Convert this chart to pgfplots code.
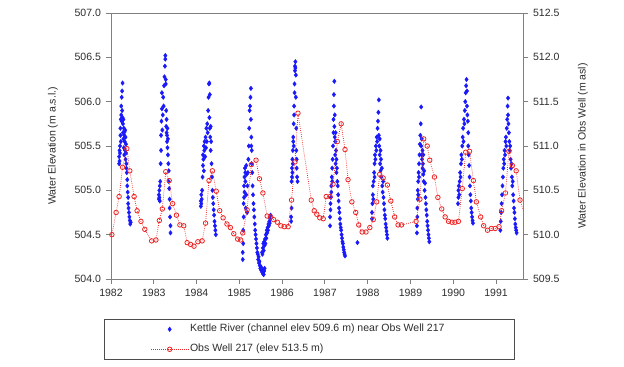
\documentclass[border=0pt]{standalone}
\usepackage{fontspec}
\setmainfont{Liberation Sans}
\usepackage{pgfplots}
\pgfplotsset{compat=1.18}

\definecolor{axisgray}{RGB}{128,128,128}
\definecolor{txt}{RGB}{45,45,45}
\definecolor{riverblue}{RGB}{25,25,250}
\definecolor{wellred}{RGB}{238,35,35}

\pgfplotsset{
  chartbase/.style={
    scale only axis, width=309pt, height=199.5pt,
    at={(83.25pt,66pt)}, anchor=south west,
    xmin=1982, xmax=1991.63,
    font=\fontsize{7.9}{9.5}\selectfont,
    /pgf/number format/assume math mode=true,
    axis line style={axisgray, line width=0.7pt},
    tick style={axisgray, line width=0.7pt},
    tick align=outside, major tick length=4pt,
    ticklabel style={text=txt},
    label style={text=txt},
  },
  rivermark/.style={only marks, mark=diamond*, mark size=1.7pt, riverblue,
    mark options={fill=riverblue, draw=riverblue, line width=0.3pt}},
  riverleg/.style={legend image code/.code={\draw[##1] plot coordinates {(14pt,0pt)};}},
  wellleg/.style={legend image code/.code={\draw[##1, mark repeat=2, mark phase=2] plot coordinates {(0pt,0pt)(14pt,0pt)(28pt,0pt)};}},
}

\begin{document}
\begin{tikzpicture}
\path[use as bounding box] (0,0) rectangle (468pt,275.25pt);

% left axis: Kettle River
\begin{axis}[chartbase,
    ymin=504, ymax=507,
    xtick={1982,1983,...,1991}, xtick pos=bottom, ytick pos=left,
    ytick={504,504.5,...,507},
    xticklabel style={/pgf/number format/1000 sep={}},
    yticklabel style={/pgf/number format/.cd, fixed, fixed zerofill, precision=1, 1000 sep={}},
    ylabel={Water Elevation (m a.s.l.)},
    ylabel style={at={(axis description cs:-0.1408,0.5)}, anchor=center},
]
\addplot[rivermark] coordinates {
(1982.19,505.30)(1982.19,505.38)(1982.20,505.45)(1982.20,505.33)(1982.21,505.50)(1982.21,505.42)(1982.22,505.62)(1982.22,505.70)
(1982.23,505.80)(1982.23,505.55)(1982.24,505.85)(1982.24,505.95)(1982.25,506.05)(1982.25,505.78)(1982.26,506.12)(1982.26,505.90)
(1982.27,506.21)(1982.27,505.82)(1982.28,505.75)(1982.28,505.65)(1982.29,505.80)(1982.29,505.58)(1982.30,505.70)(1982.30,505.48)
(1982.31,505.62)(1982.31,505.40)(1982.32,505.66)(1982.32,505.55)(1982.33,505.45)(1982.33,505.68)(1982.34,505.60)(1982.34,505.35)
(1982.35,505.52)(1982.35,505.42)(1982.36,505.30)(1982.36,505.25)(1982.37,505.20)(1982.38,505.12)(1982.38,505.05)(1982.39,504.98)
(1982.40,504.92)(1982.40,504.85)(1982.41,504.80)(1982.42,504.75)(1982.43,504.70)(1982.44,504.66)(1982.45,504.62)(1982.46,504.64)
(1983.12,504.90)(1983.12,504.95)(1983.13,505.00)(1983.13,504.92)(1983.14,505.05)(1983.14,504.88)(1983.15,505.10)(1983.16,505.30)
(1983.17,505.45)(1983.17,505.62)(1983.18,505.78)(1983.19,505.92)(1983.19,506.10)(1983.20,505.68)(1983.21,505.85)(1983.22,506.05)
(1983.23,505.95)(1983.24,506.18)(1983.25,506.28)(1983.26,506.40)(1983.27,506.52)(1983.27,506.48)(1983.28,506.25)(1983.28,506.20)
(1983.29,505.90)(1983.29,505.72)(1983.30,505.65)(1983.30,505.80)(1983.31,505.62)(1983.31,505.55)(1983.32,505.70)(1983.32,505.48)
(1983.33,505.40)(1983.33,505.58)(1983.34,505.30)(1983.35,505.22)(1983.35,505.10)(1983.36,505.02)(1983.37,504.90)(1983.37,504.80)
(1983.38,504.70)(1983.39,504.60)(1983.39,504.52)
(1984.10,504.82)(1984.10,504.88)(1984.11,504.95)(1984.11,504.85)(1984.12,504.90)(1984.13,505.00)(1984.14,505.15)(1984.15,505.28)
(1984.15,505.40)(1984.16,505.35)(1984.17,505.50)(1984.17,505.22)(1984.18,505.45)(1984.19,505.55)(1984.20,505.38)(1984.21,505.60)
(1984.22,505.48)(1984.23,505.70)(1984.24,505.55)(1984.25,505.75)(1984.26,505.65)(1984.27,505.90)(1984.28,506.05)(1984.29,506.20)
(1984.30,506.21)(1984.30,505.82)(1984.31,506.08)(1984.31,505.70)(1984.32,505.60)(1984.33,505.72)(1984.33,505.45)(1984.34,505.55)
(1984.35,505.30)(1984.36,505.15)(1984.37,505.00)(1984.38,504.92)(1984.39,504.85)(1984.40,504.78)(1984.41,504.72)(1984.42,504.65)
(1984.43,504.60)(1984.44,504.55)(1984.45,504.50)
(1985.08,504.22)(1985.08,504.30)(1985.09,504.40)(1985.09,504.55)(1985.10,504.70)(1985.10,504.85)(1985.11,504.92)(1985.11,505.05)
(1985.12,504.98)(1985.12,505.15)(1985.13,505.25)(1985.14,505.10)(1985.14,505.20)(1985.15,504.80)(1985.16,504.95)(1985.16,505.28)
(1985.17,505.18)(1985.18,504.75)(1985.19,505.05)(1985.20,505.20)(1985.21,505.35)(1985.22,505.50)(1985.23,505.70)(1985.24,505.90)
(1985.25,505.95)(1985.26,506.05)(1985.27,506.15)(1985.27,505.80)(1985.28,505.50)(1985.28,505.60)(1985.29,505.45)(1985.29,505.30)
(1985.30,505.20)(1985.31,505.05)(1985.32,504.95)(1985.33,504.85)(1985.34,504.78)(1985.35,504.70)(1985.36,504.62)(1985.37,504.55)
(1985.38,504.50)(1985.39,504.45)(1985.40,504.40)(1985.41,504.35)(1985.42,504.30)(1985.43,504.28)(1985.44,504.22)(1985.45,504.25)
(1985.46,504.18)(1985.47,504.20)(1985.48,504.15)(1985.49,504.12)(1985.50,504.14)(1985.51,504.10)(1985.52,504.12)(1985.53,504.08)
(1985.54,504.10)(1985.55,504.06)(1985.56,504.08)(1985.57,504.05)(1985.58,504.09)(1985.59,504.12)
(1985.53,504.30)(1985.54,504.28)(1985.55,504.35)(1985.56,504.40)(1985.57,504.32)(1985.58,504.42)(1985.59,504.38)(1985.60,504.45)
(1985.61,504.40)(1985.62,504.50)(1985.63,504.46)(1985.64,504.55)(1985.65,504.52)(1985.66,504.58)(1985.67,504.55)(1985.68,504.62)
(1985.69,504.60)(1985.70,504.65)(1985.71,504.63)(1985.72,504.68)(1985.73,504.72)
(1986.21,504.65)(1986.21,504.70)(1986.22,504.80)(1986.22,505.10)(1986.23,505.15)(1986.23,505.25)(1986.24,505.20)(1986.24,505.35)
(1986.25,505.30)(1986.25,505.45)(1986.26,505.55)(1986.26,505.60)(1986.27,505.50)(1986.27,505.75)(1986.28,505.85)(1986.28,505.95)
(1986.29,506.10)(1986.29,506.20)(1986.30,506.35)(1986.30,506.40)(1986.31,506.45)(1986.31,506.38)(1986.32,506.30)(1986.32,506.05)
(1986.33,505.70)(1986.33,505.45)(1986.34,505.35)(1986.34,505.25)(1986.35,505.15)(1986.36,505.10)
(1987.12,504.60)(1987.12,504.70)(1987.13,504.85)(1987.13,504.78)(1987.14,504.92)(1987.15,505.05)(1987.15,504.98)(1987.16,505.15)
(1987.17,505.25)(1987.17,505.10)(1987.18,505.35)(1987.19,505.50)(1987.20,505.65)(1987.20,505.80)(1987.21,505.95)(1987.21,506.08)
(1987.22,506.23)(1987.22,505.72)(1987.23,505.60)(1987.23,505.85)(1987.24,505.55)(1987.24,505.40)(1987.25,505.65)(1987.25,505.30)
(1987.26,505.45)(1987.27,505.35)(1987.27,505.20)(1987.28,505.25)(1987.29,505.10)(1987.30,505.05)(1987.31,504.95)(1987.32,504.88)
(1987.33,504.80)(1987.34,504.75)(1987.35,504.68)(1987.36,504.62)(1987.37,504.58)(1987.38,504.55)(1987.39,504.50)(1987.40,504.46)
(1987.41,504.42)(1987.42,504.40)(1987.43,504.36)(1987.44,504.33)(1987.45,504.30)(1987.46,504.28)(1987.47,504.26)(1987.76,504.41)
(1988.10,504.68)(1988.10,504.75)(1988.11,504.85)(1988.12,504.95)(1988.12,505.05)(1988.13,504.90)(1988.14,505.10)(1988.15,505.20)
(1988.16,505.30)(1988.16,505.15)(1988.17,505.40)(1988.18,505.35)(1988.19,505.50)(1988.20,505.45)(1988.21,505.60)(1988.22,505.55)
(1988.23,505.70)(1988.24,505.78)(1988.25,505.88)(1988.26,506.02)(1988.26,505.62)(1988.27,505.50)(1988.28,505.40)(1988.28,505.58)
(1988.29,505.30)(1988.30,505.45)(1988.30,505.22)(1988.31,505.35)(1988.32,505.15)(1988.33,505.25)(1988.34,505.05)(1988.35,504.98)
(1988.36,505.10)(1988.37,504.92)(1988.38,504.85)(1988.39,504.78)(1988.40,504.72)(1988.41,504.68)(1988.42,504.62)(1988.43,504.58)
(1988.44,504.54)(1988.45,504.50)(1988.46,504.46)
(1989.15,504.52)(1989.15,504.60)(1989.16,504.70)(1989.16,504.80)(1989.17,504.90)(1989.17,505.00)(1989.18,504.95)(1989.18,505.10)
(1989.19,505.20)(1989.20,505.30)(1989.20,505.15)(1989.21,505.40)(1989.22,505.52)(1989.23,505.62)(1989.24,505.75)(1989.25,505.94)
(1989.25,505.50)(1989.26,505.40)(1989.26,505.58)(1989.27,505.35)(1989.28,505.45)(1989.28,505.25)(1989.29,505.30)(1989.30,505.18)
(1989.30,505.40)(1989.31,505.10)(1989.32,505.22)(1989.33,505.00)(1989.34,505.08)(1989.35,504.92)(1989.36,504.85)(1989.37,504.78)
(1989.38,504.72)(1989.39,504.65)(1989.40,504.60)(1989.41,504.55)(1989.42,504.50)(1989.43,504.46)(1989.44,504.42)
(1990.11,504.85)(1990.12,504.92)(1990.12,505.00)(1990.13,505.05)(1990.14,504.95)(1990.15,505.10)(1990.16,505.20)(1990.17,505.15)
(1990.18,505.30)(1990.19,505.40)(1990.20,505.35)(1990.21,505.50)(1990.22,505.60)(1990.23,505.70)(1990.24,505.55)(1990.25,505.80)
(1990.26,505.75)(1990.27,505.90)(1990.28,506.00)(1990.29,506.10)(1990.30,506.18)(1990.31,506.25)(1990.32,506.12)(1990.32,505.95)
(1990.33,505.85)(1990.34,505.78)(1990.35,505.65)(1990.35,505.50)(1990.36,505.40)(1990.37,505.28)(1990.38,505.15)(1990.39,505.05)
(1990.40,504.95)(1990.41,504.88)(1990.42,504.80)(1990.43,504.75)(1990.44,504.70)(1990.45,504.66)(1990.46,504.63)
(1991.10,504.55)(1991.11,504.65)(1991.12,504.75)(1991.13,504.85)(1991.14,504.95)(1991.15,505.05)(1991.16,505.15)(1991.17,505.25)
(1991.18,505.35)(1991.19,505.30)(1991.20,505.45)(1991.21,505.40)(1991.22,505.55)(1991.23,505.60)(1991.24,505.50)(1991.25,505.70)
(1991.26,505.80)(1991.27,505.95)(1991.28,506.04)(1991.28,505.85)(1991.29,505.75)(1991.30,505.65)(1991.31,505.55)(1991.32,505.45)
(1991.33,505.50)(1991.34,505.35)(1991.35,505.25)(1991.36,505.30)(1991.37,505.15)(1991.38,505.05)(1991.39,505.10)(1991.40,504.95)
(1991.41,504.88)(1991.42,504.80)(1991.43,504.75)(1991.44,504.68)(1991.45,504.62)(1991.46,504.58)(1991.47,504.55)(1991.48,504.52)
};
\end{axis}

% right axis: Obs Well 217
\begin{axis}[chartbase,
    ymin=509.5, ymax=512.5,
    axis x line=none, axis y line*=right,
    ytick={509.5,510,...,512.5},
    yticklabel style={/pgf/number format/.cd, fixed, fixed zerofill, precision=1, 1000 sep={}},
    ylabel={Water Elevation in Obs Well (m asl)},
    ylabel style={at={(axis description cs:1.1456,0.5)}, anchor=center},
    legend cell align=left,
    legend style={at={(0.4806,-0.150)}, anchor=north, draw=black!70, line width=0.6pt,
      inner xsep=35pt, inner ysep=2.5pt, row sep=5pt, text=txt,
      nodes={inner sep=1pt, text height=6pt, text depth=2pt}},
]
\addlegendimage{rivermark, riverleg}
\addlegendentry{\makebox[207pt][l]{Kettle River (channel elev 509.6 m) near Obs Well 217}}
\addplot[wellred, densely dotted, line width=0.55pt, mark=o, mark size=1.7pt,
  mark options={solid, line width=0.6pt}, wellleg]
  coordinates {
(1982.02,510.00)(1982.12,510.25)(1982.19,510.43)(1982.27,510.76)(1982.37,510.97)(1982.44,510.72)(1982.54,510.43)(1982.61,510.27)
(1982.70,510.15)(1982.79,510.06)(1982.95,509.93)(1983.05,509.94)(1983.13,510.16)(1983.20,510.29)(1983.28,510.71)(1983.36,510.61)
(1983.44,510.35)(1983.53,510.22)(1983.61,510.11)(1983.70,510.10)(1983.78,509.91)(1983.86,509.89)(1983.94,509.87)(1984.03,509.92)
(1984.13,509.93)(1984.21,510.13)(1984.29,510.61)(1984.37,510.72)(1984.46,510.49)(1984.54,510.27)(1984.62,510.19)(1984.71,510.12)
(1984.79,510.08)(1984.87,510.01)(1984.96,509.95)(1985.03,509.94)(1985.08,510.02)(1985.18,510.28)(1985.28,510.79)(1985.39,510.84)
(1985.47,510.63)(1985.55,510.47)(1985.65,510.21)(1985.73,510.20)(1985.80,510.17)(1985.89,510.14)(1985.97,510.10)(1986.05,510.09)
(1986.14,510.09)(1986.22,510.39)(1986.30,510.82)(1986.37,511.37)(1986.68,510.39)(1986.75,510.27)(1986.81,510.23)(1986.88,510.19)
(1986.96,510.18)(1987.03,510.43)(1987.12,510.43)(1987.19,510.57)(1987.29,511.05)(1987.38,511.25)(1987.47,510.96)(1987.54,510.62)
(1987.63,510.37)(1987.72,510.25)(1987.79,510.11)(1987.87,510.03)(1987.96,510.03)(1988.05,510.08)(1988.13,510.17)(1988.21,510.37)
(1988.28,510.68)(1988.36,510.64)(1988.46,510.56)(1988.54,510.38)(1988.63,510.20)(1988.71,510.11)(1988.79,510.11)(1989.13,510.15)
(1989.22,510.40)(1989.31,511.08)(1989.39,511.00)(1989.45,510.84)(1989.56,510.65)(1989.64,510.42)(1989.73,510.29)(1989.81,510.20)
(1989.89,510.15)(1989.97,510.14)(1990.04,510.14)(1990.12,510.15)(1990.21,510.52)(1990.29,510.93)(1990.38,510.94)(1990.47,510.61)
(1990.54,510.37)(1990.64,510.20)(1990.71,510.10)(1990.80,510.05)(1990.89,510.07)(1990.98,510.07)(1991.07,510.09)(1991.13,510.27)
(1991.22,510.47)(1991.30,510.94)(1991.38,510.78)(1991.47,510.72)(1991.56,510.39)
};
\addlegendentry{\makebox[207pt][l]{Obs Well 217 (elev 513.5 m)}}
\addplot[wellred, densely dotted, line width=0.55pt, forget plot] coordinates {(1991.56,510.39)(1991.66,510.24)};
\end{axis}
\end{tikzpicture}
\end{document}
